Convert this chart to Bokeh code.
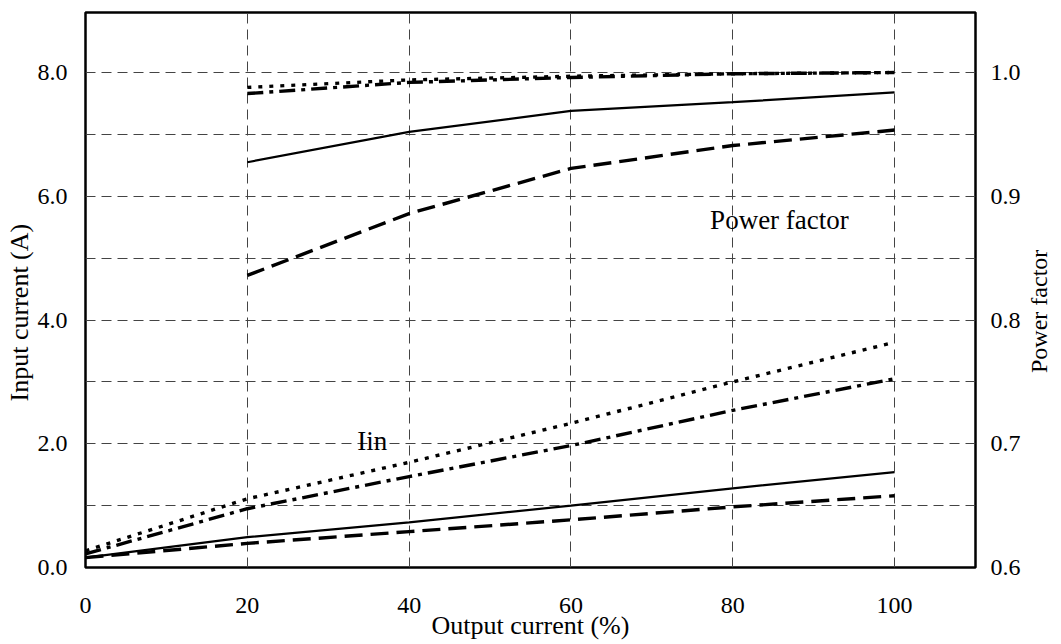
import math
from bokeh.plotting import figure
from bokeh.layouts import row
from bokeh.models import Range1d, LinearAxis, FixedTicker, NumeralTickFormatter, Label
from bokeh.embed import file_html
from bokeh.resources import INLINE

# ---- data ----
x_iin = [0, 20, 40, 60, 80, 100]
iin_dotted = [0.27, 1.11, 1.70, 2.33, 3.00, 3.64]
iin_dashdot = [0.22, 0.95, 1.47, 1.97, 2.54, 3.05]
iin_solid = [0.16, 0.49, 0.73, 1.00, 1.28, 1.54]
iin_dashed = [0.16, 0.39, 0.58, 0.77, 0.98, 1.16]

x_pf = [20, 40, 60, 80, 100]
pf_dotted = [0.988, 0.994, 0.997, 0.999, 1.000]
pf_dashdot = [0.983, 0.992, 0.996, 0.999, 1.000]
pf_solid = [0.9275, 0.952, 0.969, 0.976, 0.984]
pf_dashed = [0.836, 0.886, 0.9225, 0.941, 0.9535]

x_ticks = [0, 20, 40, 60, 80, 100]
left_ticks = [0, 2, 4, 6, 8]
left_grid = [1, 2, 3, 4, 5, 6, 7, 8]
right_ticks = [0.6, 0.7, 0.8, 0.9, 1.0]

FONT = "Liberation Serif"

y_left = Range1d(0, 8.97)
y_pf = Range1d(0.6, 0.6 + 8.97 * 0.05)

p = figure(frame_width=890, frame_height=555, output_backend="svg", toolbar_location=None,
           x_range=Range1d(0, 110), y_range=y_left,
           min_border_left=51, min_border_right=46, min_border_top=12, min_border_bottom=10)
p.extra_y_ranges = {"pf": y_pf}

p.outline_line_color = "black"
p.outline_line_width = 2.5
p.outline_line_alpha = 1.0
p.background_fill_color = "white"
p.border_fill_color = "white"

def style_axis(ax):
    ax.axis_line_color = None
    ax.major_tick_line_color = None
    ax.minor_tick_line_color = None
    ax.major_tick_out = 0
    ax.major_tick_in = 0
    ax.minor_tick_out = 0
    ax.minor_tick_in = 0
    ax.major_label_text_font = FONT
    ax.major_label_text_font_size = "24px"
    ax.major_label_text_color = "black"
    ax.axis_label_text_font = FONT
    ax.axis_label_text_font_style = "normal"
    ax.axis_label_text_font_size = "26px"
    ax.axis_label_text_color = "black"

xa = p.xaxis[0]
style_axis(xa)
xa.ticker = FixedTicker(ticks=x_ticks)
xa.axis_label = "Output current (%)"
xa.major_label_standoff = 30
xa.axis_label_standoff = -5

ya = p.yaxis[0]
style_axis(ya)
ya.ticker = FixedTicker(ticks=left_ticks)
ya.formatter = NumeralTickFormatter(format="0.0")
ya.major_label_standoff = 18

ra = LinearAxis(y_range_name="pf")
style_axis(ra)
ra.ticker = FixedTicker(ticks=right_ticks)
ra.formatter = NumeralTickFormatter(format="0.0")
ra.major_label_standoff = 15
p.add_layout(ra, "right")

# grids
p.xgrid.ticker = FixedTicker(ticks=[20, 40, 60, 80, 100])
p.ygrid.ticker = FixedTicker(ticks=left_grid)
for g in (p.xgrid[0], p.ygrid[0]):
    g.grid_line_color = "#444444"
    g.grid_line_width = 1
    g.grid_line_dash = "10 6"
    g.grid_line_alpha = 1.0

# input current lines
p.line(x_iin, iin_dotted, line_color="black", line_width=3.4, line_dash="4 7")
p.line(x_iin, iin_dashdot, line_color="black", line_width=3.4, line_dash="16 6 4 6")
p.line(x_iin, iin_solid, line_color="black", line_width=2.2)
p.line(x_iin, iin_dashed, line_color="black", line_width=3.4, line_dash="18 8")

# power factor lines
p.line(x_pf, pf_dotted, line_color="black", line_width=3.4, line_dash="4 7", y_range_name="pf")
p.line(x_pf, pf_dashdot, line_color="black", line_width=3.4, line_dash="16 6 4 6", y_range_name="pf")
p.line(x_pf, pf_solid, line_color="black", line_width=2.2, y_range_name="pf")
p.line(x_pf, pf_dashed, line_color="black", line_width=3.4, line_dash="18 8", y_range_name="pf")

p.add_layout(Label(x=77.2, y=5.61, text="Power factor", text_font=FONT, text_font_size="27px",
                   text_color="black", text_baseline="middle", text_align="left"))
p.add_layout(Label(x=33.6, y=2.05, text="Iin", text_font=FONT, text_font_size="27px",
                   text_color="black", text_baseline="middle", text_align="left"))

# ---- narrow side strips carrying the vertical axis titles (both read bottom-to-top) ----
def title_strip(width, y_range, x_pos, y_pos, text, size):
    s = figure(frame_width=width, frame_height=555, output_backend="svg", toolbar_location=None,
               x_range=Range1d(0, width), y_range=y_range, x_axis_type=None, y_axis_type=None,
               min_border_left=0, min_border_right=0, min_border_top=12, min_border_bottom=0)
    s.outline_line_color = None
    s.background_fill_color = "white"
    s.border_fill_color = "white"
    s.add_layout(Label(x=x_pos, y=y_pos, text=text, angle=math.pi / 2,
                       text_font=FONT, text_font_size=size, text_color="black",
                       text_align="center", text_baseline="middle"))
    return s

left_strip = title_strip(34, y_left, 19, 4.12, "Input current (A)", "26px")
right_strip = title_strip(30, y_pf, 15, 0.807, "Power factor", "24px")

layout = row(left_strip, p, right_strip, spacing=0)

open("out.html", "w").write(file_html(layout, INLINE))
